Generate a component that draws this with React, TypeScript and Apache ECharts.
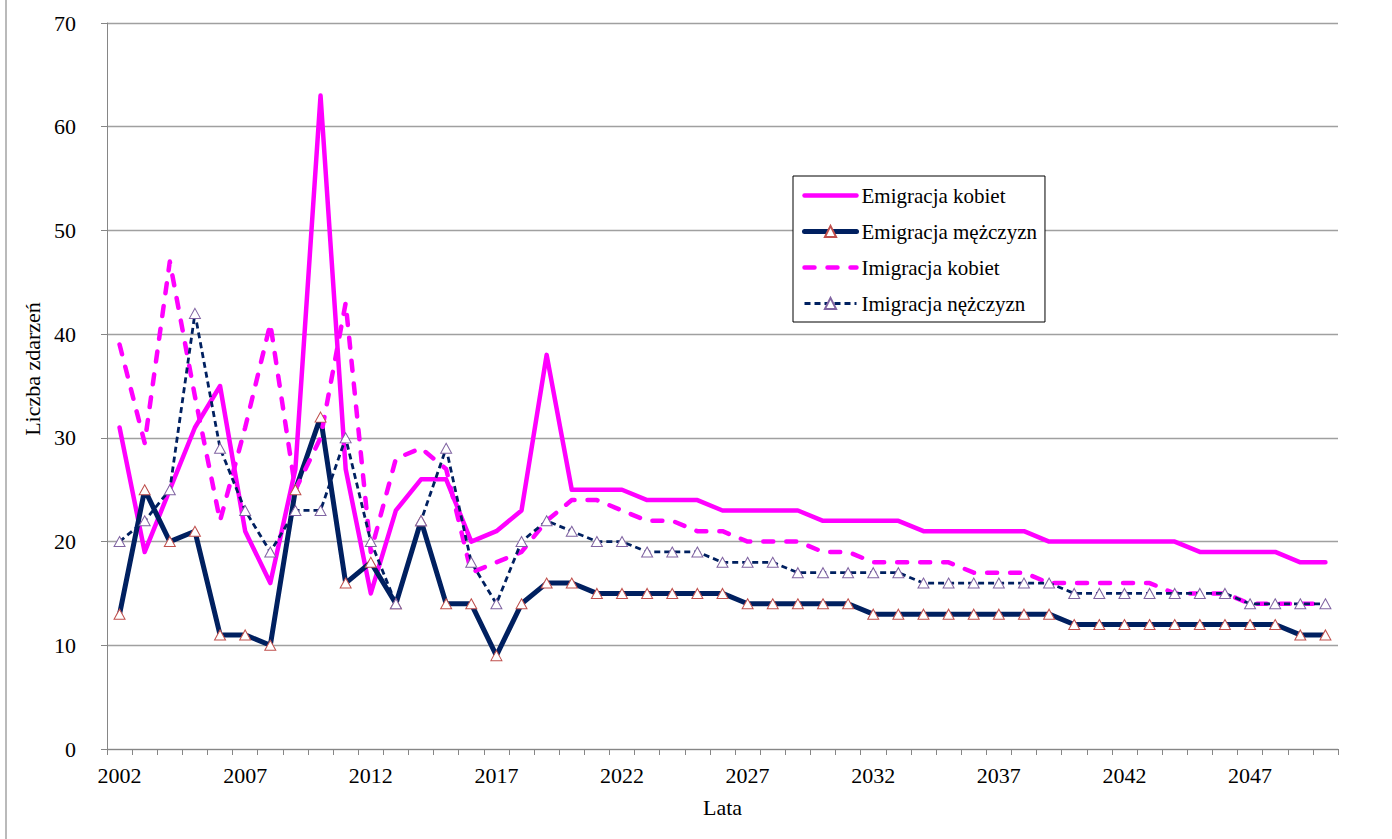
import React, { useEffect, useRef } from "react";
import * as echarts from "echarts";

const years = [
  "2002","2003","2004","2005","2006","2007","2008","2009","2010","2011",
  "2012","2013","2014","2015","2016","2017","2018","2019","2020","2021",
  "2022","2023","2024","2025","2026","2027","2028","2029","2030","2031",
  "2032","2033","2034","2035","2036","2037","2038","2039","2040","2041",
  "2042","2043","2044","2045","2046","2047","2048","2049","2050",
];

const emigracjaKobiet = [
  31, 19, 25, 31, 35, 21, 16, 27, 63, 27, 15, 23, 26, 26, 20, 21, 23, 38, 25,
  25, 25, 24, 24, 24, 23, 23, 23, 23, 22, 22, 22, 22, 21, 21, 21, 21, 21,
  20, 20, 20, 20, 20, 20, 19, 19, 19, 19, 18, 18,
];

const emigracjaMezczyzn = [
  13, 25, 20, 21, 11, 11, 10, 25, 32, 16, 18, 14, 22, 14, 14, 9, 14, 16, 16,
  15, 15, 15, 15, 15, 15, 14, 14, 14, 14, 14, 13, 13, 13, 13, 13, 13, 13, 13,
  12, 12, 12, 12, 12, 12, 12, 12, 12, 11, 11,
];

const imigracjaKobiet = [
  39, 29.5, 47, 34, 22, 31, 41, 25, 30, 43, 19, 28, 29, 27, 17, 18, 19, 22, 24,
  24, 23, 22, 22, 21, 21, 20, 20, 20, 19, 19, 18, 18, 18, 18, 17, 17, 17,
  16, 16, 16, 16, 16, 15, 15, 15, 14, 14, 14, 14,
];

const imigracjaMezczyzn = [
  20, 22, 25, 42, 29, 23, 19, 23, 23, 30, 20, 14, 22, 29, 18, 14, 20, 22, 21,
  20, 20, 19, 19, 19, 18, 18, 18, 17, 17, 17, 17, 17, 16, 16, 16, 16, 16, 16,
  15, 15, 15, 15, 15, 15, 15, 14, 14, 14, 14,
];

const seriesNames = [
  "Emigracja kobiet",
  "Emigracja mężczyzn",
  "Imigracja kobiet",
  "Imigracja nężczyzn",
];

const yTicks = { min: 0, max: 70, interval: 10 };

const FONT = "'Liberation Serif', 'Times New Roman', serif";
const MAGENTA = "#FF00FF";
const NAVY = "#002060";

export default function App() {
  const ref = useRef<HTMLDivElement>(null);

  useEffect(() => {
    if (!ref.current) return;
    const chart = echarts.init(ref.current, undefined, { renderer: "svg" });
    chart.setOption({
      animation: false,
      backgroundColor: "#ffffff",
      textStyle: { fontFamily: FONT, color: "#000" },
      grid: { left: 107, right: 54, top: 23, bottom: 90, containLabel: false },
      legend: {
        orient: "vertical",
        left: 793,
        top: 176,
        padding: [9, 8, 8, 9],
        itemGap: 15,
        itemWidth: 52,
        itemHeight: 14,
        backgroundColor: "#ffffff",
        borderColor: "#000000",
        borderWidth: 1,
        borderRadius: 0,
        textStyle: { fontFamily: FONT, fontSize: 21, color: "#000" },
        data: [
          {
            name: seriesNames[0],
            itemStyle: { opacity: 0 },
            lineStyle: { width: 4.5, cap: "round" },
          },
          { name: seriesNames[1], lineStyle: { width: 5, cap: "round" } },
          {
            name: seriesNames[2],
            itemStyle: { opacity: 0 },
            lineStyle: { width: 4.5, cap: "round", type: [10, 13] },
          },
          { name: seriesNames[3], lineStyle: { width: 2.8, type: [6, 4] } },
        ],
      },
      xAxis: {
        type: "category",
        data: years,
        boundaryGap: true,
        name: "Lata",
        nameLocation: "middle",
        nameGap: 47,
        nameTextStyle: { fontFamily: FONT, fontSize: 22, color: "#000" },
        axisLine: { lineStyle: { color: "#868686", width: 1 } },
        axisTick: { show: true, interval: 0, length: 6, lineStyle: { color: "#868686" } },
        axisLabel: {
          interval: 4,
          margin: 15,
          fontFamily: FONT,
          fontSize: 22,
          color: "#000",
        },
        splitLine: { show: false },
      },
      yAxis: {
        type: "value",
        min: yTicks.min,
        max: yTicks.max,
        interval: yTicks.interval,
        name: "Liczba zdarzeń",
        nameLocation: "middle",
        nameGap: 64,
        nameRotate: 90,
        nameTextStyle: {
          fontFamily: FONT,
          fontSize: 22,
          color: "#000",
          padding: [0, 0, 0, 34],
        },
        axisLine: { show: true, lineStyle: { color: "#868686", width: 1 } },
        axisTick: { show: true, length: 6, lineStyle: { color: "#868686" } },
        axisLabel: { margin: 31, fontFamily: FONT, fontSize: 22, color: "#000" },
        splitLine: { show: true, lineStyle: { color: "#a0a0a0", width: 1.3 } },
      },
      graphic: [
        {
          type: "line",
          shape: { x1: 6, y1: 0, x2: 6, y2: 839 },
          style: { stroke: "#8c8c8c", lineWidth: 1.2 },
          silent: true,
        },
      ],
      series: [
        {
          name: seriesNames[0],
          type: "line",
          data: emigracjaKobiet,
          symbol: "none",
          lineStyle: { color: MAGENTA, width: 4.5, join: "round", cap: "round" },
          itemStyle: { color: MAGENTA },
        },
        {
          name: seriesNames[1],
          type: "line",
          data: emigracjaMezczyzn,
          symbol: "triangle",
          symbolSize: [11, 10],
          showAllSymbol: true,
          lineStyle: { color: NAVY, width: 5, join: "round" },
          itemStyle: { color: "#ffffff", borderColor: "#c0504d", borderWidth: 1 },
        },
        {
          name: seriesNames[2],
          type: "line",
          data: imigracjaKobiet,
          symbol: "none",
          lineStyle: {
            color: MAGENTA,
            width: 4.5,
            type: [10, 13],
            cap: "round",
            join: "round",
          },
          itemStyle: { color: MAGENTA },
        },
        {
          name: seriesNames[3],
          type: "line",
          data: imigracjaMezczyzn,
          symbol: "triangle",
          symbolSize: [11, 10],
          showAllSymbol: true,
          lineStyle: { color: NAVY, width: 2.8, type: [6, 4], join: "round" },
          itemStyle: { color: "#ffffff", borderColor: "#8064a2", borderWidth: 1 },
        },
      ],
    });
    return () => chart.dispose();
  }, []);

  return (
    <div
      ref={ref}
      style={{ position: "fixed", left: 0, top: 0, width: 1392, height: 839 }}
    />
  );
}
